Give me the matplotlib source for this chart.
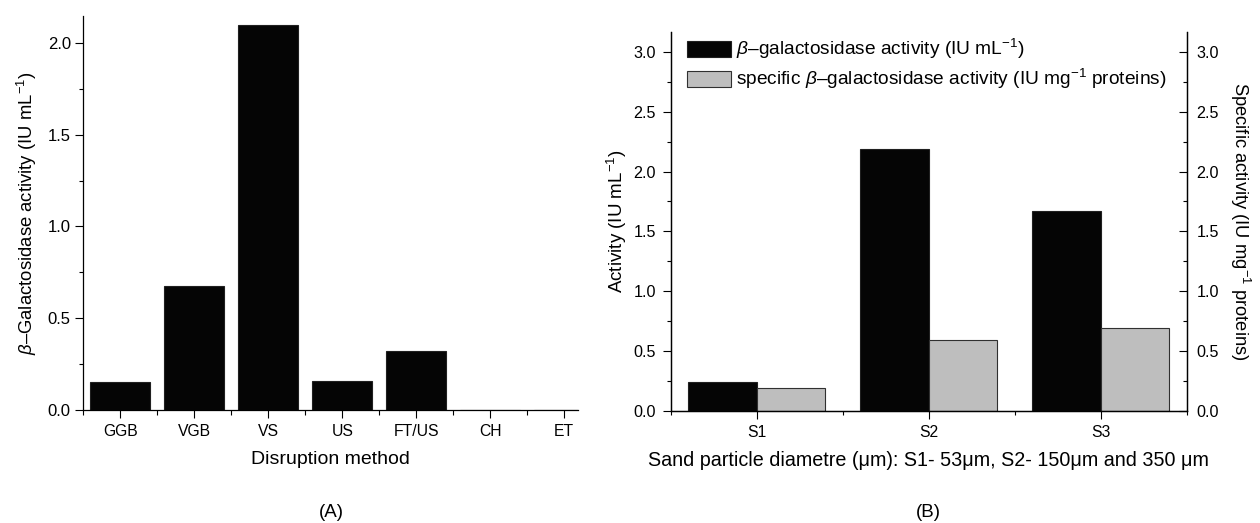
import matplotlib
matplotlib.use("Agg")
import matplotlib.pyplot as plt
from matplotlib.patches import Patch
import numpy as np

plt.rcParams['font.family'] = ['Liberation Sans', 'DejaVu Sans']
plt.rcParams['mathtext.fontset'] = 'custom'
plt.rcParams['mathtext.rm'] = 'Liberation Sans'
plt.rcParams['mathtext.it'] = 'Liberation Sans:italic'
plt.rcParams['axes.linewidth'] = 0.9

# panel A
methods = ['GGB', 'VGB', 'VS', 'US', 'FT/US', 'CH', 'ET']
activity_a = [0.154, 0.677, 2.10, 0.158, 0.322, 0.0, 0.0]

# panel B
sizes = ['S1', 'S2', 'S3']
activity_b = [0.238, 2.19, 1.67]
specific_b = [0.193, 0.594, 0.692]

fig = plt.figure(figsize=(12.6, 5.23), dpi=100)

# ---- (A) ----
ax1 = fig.add_axes([0.0661, 0.2161, 0.3929, 0.7533])
x = np.arange(len(methods))
ax1.bar(x, activity_a, width=0.81, color='#050505', edgecolor='#202020', linewidth=0.8)
ax1.set_xlim(-0.5, 6.19)
ax1.set_ylim(0, 2.147)
ax1.spines['top'].set_visible(False)
ax1.spines['right'].set_visible(False)
ax1.set_xticks(x)
ax1.set_xticklabels(methods)
ax1.set_xticks(np.arange(-0.5, 6.0, 1.0), minor=True)
ax1.set_yticks([0, 0.5, 1.0, 1.5, 2.0])
ax1.set_yticklabels(['0.0', '0.5', '1.0', '1.5', '2.0'])
ax1.set_yticks([0.25, 0.75, 1.25, 1.75], minor=True)
ax1.tick_params(which='major', direction='out', length=5.5, width=0.8, labelsize=12)
ax1.tick_params(which='minor', direction='out', length=3, width=0.8)
ax1.tick_params(axis='x', which='major', length=6, pad=4, labelsize=11.3)
ax1.tick_params(axis='x', which='minor', length=3.6)
ax1.set_xlabel('Disruption method', fontsize=14, labelpad=9)
ax1.set_ylabel(r'$\beta$–Galactosidase activity (IU mL$^{-1}$)', fontsize=13.3, labelpad=6)

# ---- (B) ----
ax2 = fig.add_axes([0.5323, 0.2147, 0.4094, 0.7247])
xs = np.arange(len(sizes))
ax2.bar(xs - 0.2, activity_b, width=0.4, color='#050505', edgecolor='#202020', linewidth=0.8)
ax2.bar(xs + 0.2, specific_b, width=0.4, color='#bebebe', edgecolor='#303030', linewidth=0.8)
ax2.set_xlim(-0.5, 2.5)
ax2.set_ylim(0, 3.17)
ax2.spines['top'].set_visible(False)
ax2.set_xticks(xs)
ax2.set_xticklabels(sizes)
ax2.set_xticks([-0.5, 0.5, 1.5, 2.5], minor=True)
yt = [0, 0.5, 1.0, 1.5, 2.0, 2.5, 3.0]
ytl = ['0.0', '0.5', '1.0', '1.5', '2.0', '2.5', '3.0']
ax2.set_yticks(yt)
ax2.set_yticklabels(ytl)
ax2.set_yticks([0.25, 0.75, 1.25, 1.75, 2.25, 2.75], minor=True)
ax2.tick_params(which='major', direction='out', length=5.5, width=0.8, labelsize=11.6)
ax2.tick_params(which='minor', direction='out', length=3, width=0.8)
ax2.tick_params(axis='y', which='major', pad=5)
ax2.tick_params(axis='x', which='major', length=6, pad=4, labelsize=11.3)
ax2.set_xlabel('Sand particle diametre (μm): S1- 53μm, S2- 150μm and 350 μm',
               fontsize=14.2, labelpad=8)
ax2.set_ylabel(r'Activity (IU mL$^{-1}$)', fontsize=13.5, labelpad=3)

ax3 = ax2.twinx()
ax3.set_ylim(0, 3.17)
ax3.spines['top'].set_visible(False)
ax3.set_yticks(yt)
ax3.set_yticklabels(ytl)
ax3.set_yticks([0.25, 0.75, 1.25, 1.75, 2.25, 2.75], minor=True)
ax3.tick_params(which='major', direction='in', length=5.5, width=0.8, labelsize=11.6, pad=7)
ax3.tick_params(which='minor', direction='in', length=3, width=0.8)
ax3.set_ylabel(r'Specific activity (IU mg$^{-1}$ proteins)', fontsize=13.2,
               rotation=-90, labelpad=24)

handles = [Patch(facecolor='#050505', edgecolor='#202020', linewidth=0.8),
           Patch(facecolor='#bebebe', edgecolor='#303030', linewidth=0.8)]
labels = [r'$\beta$–galactosidase activity (IU mL$^{-1}$)',
          r'specific $\beta$–galactosidase activity (IU mg$^{-1}$ proteins)']
ax2.legend(handles, labels, loc='upper left', bbox_to_anchor=(0.031, 0.985),
           frameon=False, fontsize=13.8, handlelength=2.32, handleheight=0.93,
           handletextpad=0.26, labelspacing=0.3, borderpad=0, borderaxespad=0)

fig.text(0.263, 0.021, '(A)', ha='center', va='center', fontsize=13.5)
fig.text(0.737, 0.021, '(B)', ha='center', va='center', fontsize=13.5)

fig.savefig('out.png', dpi=100)
